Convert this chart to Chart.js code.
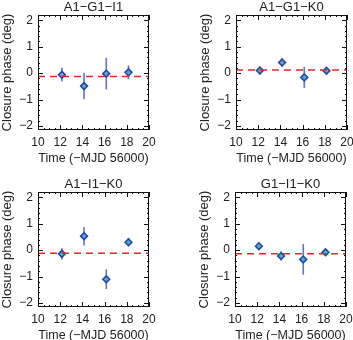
<!DOCTYPE html>
<html>
<head>
<meta charset="utf-8">
<script src="https://cdn.jsdelivr.net/npm/chart.js@4.4.1/dist/chart.umd.min.js"></script>
<style>
  html, body { margin: 0; padding: 0; background: #fff; }
  body { width: 353px; height: 340px; overflow: hidden; position: relative; }
  .panel { position: absolute; width: 176px; height: 170px; }
</style>
</head>
<body>
<div class="panel" style="left:0;top:0"><canvas id="c1"></canvas></div>
<div class="panel" style="left:198px;top:0"><canvas id="c2"></canvas></div>
<div class="panel" style="left:0;top:177px"><canvas id="c3"></canvas></div>
<div class="panel" style="left:197px;top:177px"><canvas id="c4"></canvas></div>
<script>
// observation times (day - MJD 56000)
const times = [12.15, 14.15, 16.15, 18.15];
const xTicks = [10, 12, 14, 16, 18, 20];
const yTicks = [-2, -1, 0, 1, 2];

// closure phases (deg), errors and mean level per triangle
const titles = ['A1−G1−I1', 'A1−G1−K0', 'A1−I1−K0', 'G1−I1−K0'];

const phaseA1G1I1 = [-0.06, -0.49, -0.02, 0.03];
const errA1G1I1 = [0.26, 0.5, 0.6, 0.26];
const meanA1G1I1 = -0.13;

const phaseA1G1K0 = [0.1, 0.4, -0.16, 0.09];
const errA1G1K0 = [0.15, 0.17, 0.4, 0.08];
const meanA1G1K0 = 0.12;

const phaseA1I1K0 = [-0.14, 0.53, -1.1, 0.3];
const errA1I1K0 = [0.21, 0.35, 0.37, 0.15];
const meanA1I1K0 = -0.12;

const phaseG1I1K0 = [0.15, -0.22, -0.35, -0.08];
const errG1I1K0 = [0.14, 0.17, 0.58, 0.09];
const meanG1I1K0 = -0.14;

const FONT = "'Liberation Sans', Arial, sans-serif";
const INK = '#222';

// vertical error bars, drawn under the markers
const errorBars = {
  id: 'errorBars',
  beforeDatasetsDraw(chart) {
    const errs = chart.options.plugins.errorBars.errors;
    const ds = chart.data.datasets[1];
    const {ctx, scales: {x, y}} = chart;
    ctx.save();
    ctx.strokeStyle = '#6473c2';
    ctx.lineWidth = 1.6;
    ds.data.forEach((p, i) => {
      const px = x.getPixelForValue(p.x);
      ctx.beginPath();
      ctx.moveTo(px, y.getPixelForValue(p.y - errs[i]));
      ctx.lineTo(px, y.getPixelForValue(p.y + errs[i]));
      ctx.stroke();
    });
    ctx.restore();
  }
};

// IDL style frame with inward ticks, plus the panel title over the box
const frame = {
  id: 'frame',
  afterDraw(chart) {
    const {ctx, chartArea: a, scales: {x, y}} = chart;
    ctx.save();
    ctx.strokeStyle = '#111';
    ctx.lineWidth = 1;
    ctx.strokeRect(a.left + 0.5, a.top + 0.5, a.right - a.left - 1, a.bottom - a.top - 1);
    ctx.beginPath();
    for (let v = 10; v <= 20.001; v += 0.5) {
      const px = Math.round(x.getPixelForValue(v)) + 0.5;
      const len = Math.abs(v % 2) < 0.01 ? 5 : 2;
      ctx.moveTo(px, a.bottom); ctx.lineTo(px, a.bottom - len);
      ctx.moveTo(px, a.top); ctx.lineTo(px, a.top + len);
    }
    for (let v = -2; v <= 2.001; v += 0.2) {
      const py = Math.round(y.getPixelForValue(v)) + 0.5;
      const len = Math.abs(v - Math.round(v)) < 0.01 ? 5 : 2;
      ctx.moveTo(a.left, py); ctx.lineTo(a.left + len, py);
      ctx.moveTo(a.right, py); ctx.lineTo(a.right - len, py);
    }
    ctx.stroke();
    ctx.fillStyle = INK;
    ctx.font = '13px ' + FONT;
    ctx.textAlign = 'center';
    ctx.textBaseline = 'middle';
    ctx.fillText(chart.options.plugins.frame.title, (a.left + a.right) / 2, 7);
    ctx.restore();
  }
};

function makePanel(id, title, phases, errs, mean) {
  const points = times.map((t, i) => ({x: t, y: phases[i]}));
  return new Chart(document.getElementById(id), {
    type: 'scatter',
    plugins: [errorBars, frame],
    data: {
      datasets: [
        {
          type: 'line',
          data: [{x: xTicks[0], y: mean}, {x: xTicks[xTicks.length - 1], y: mean}],
          borderColor: '#e8232b',
          borderWidth: 1.5,
          borderDash: [7, 5],
          pointRadius: 0
        },
        {
          data: points,
          pointStyle: 'rectRot',
          pointRadius: 3.4,
          backgroundColor: '#6a9ee0',
          borderColor: '#1d4f9e',
          borderWidth: 1.6
        }
      ]
    },
    options: {
      responsive: true,
      maintainAspectRatio: false,
      animation: false,
      layout: { padding: { left: 0, right: 27, top: 15, bottom: 0 } },
      scales: {
        x: {
          type: 'linear',
          min: xTicks[0],
          max: xTicks[xTicks.length - 1],
          afterFit: (s) => { s.height = 40; },
          afterBuildTicks: (s) => { s.ticks = xTicks.map(v => ({value: v})); },
          grid: { display: false, drawTicks: false },
          border: { display: false },
          ticks: { color: INK, padding: 5, font: { family: FONT, size: 12 } },
          title: {
            display: true,
            text: 'Time (−MJD 56000)',
            color: INK,
            padding: { top: 0, bottom: 4 },
            font: { family: FONT, size: 12.5 }
          }
        },
        y: {
          min: -2.15,
          max: 2.2,
          afterFit: (s) => { s.width = 38; },
          afterBuildTicks: (s) => { s.ticks = yTicks.map(v => ({value: v})); },
          grid: { display: false, drawTicks: false },
          border: { display: false },
          ticks: {
            color: INK,
            padding: 5,
            font: { family: FONT, size: 12 },
            callback: (v) => String(v).replace('-', '−')
          },
          title: {
            display: true,
            text: 'Closure phase (deg)',
            color: INK,
            padding: 0,
            font: { family: FONT, size: 13 }
          }
        }
      },
      plugins: {
        legend: { display: false },
        tooltip: { enabled: false },
        title: { display: false },
        frame: { title: title },
        errorBars: { errors: errs }
      }
    }
  });
}

makePanel('c1', titles[0], phaseA1G1I1, errA1G1I1, meanA1G1I1);
makePanel('c2', titles[1], phaseA1G1K0, errA1G1K0, meanA1G1K0);
makePanel('c3', titles[2], phaseA1I1K0, errA1I1K0, meanA1I1K0);
makePanel('c4', titles[3], phaseG1I1K0, errG1I1K0, meanG1I1K0);
</script>
</body>
</html>
